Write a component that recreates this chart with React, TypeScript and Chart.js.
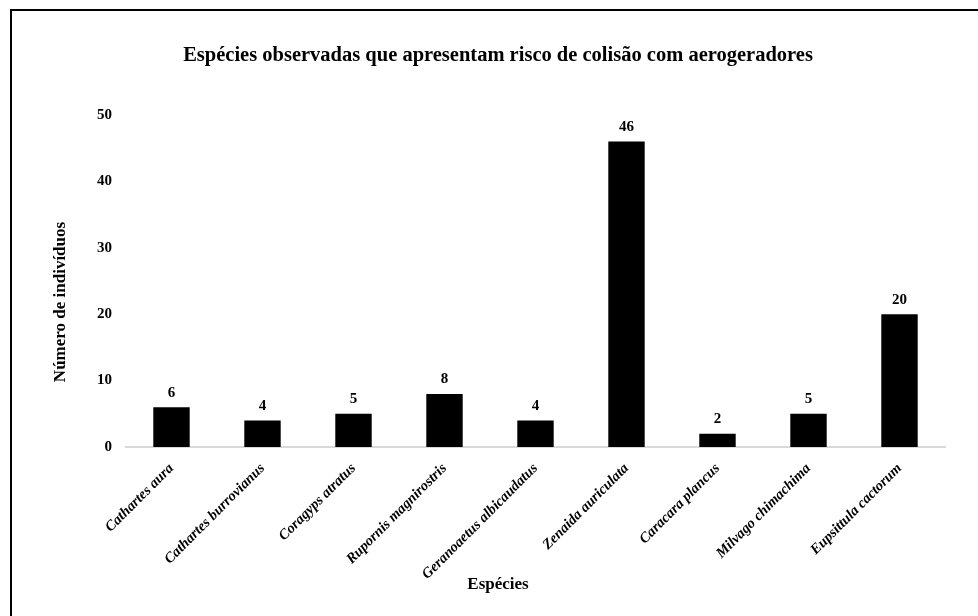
import React, { useEffect, useRef } from "react";
import { Chart, registerables } from "chart.js";

Chart.register(...registerables);

const species = [
  "Cathartes aura",
  "Cathartes burrovianus",
  "Coragyps atratus",
  "Rupornis magnirostris",
  "Geranoaetus albicaudatus",
  "Zenaida auriculata",
  "Caracara plancus",
  "Milvago chimachima",
  "Eupsittula cactorum",
];
const individuals = [6, 4, 5, 8, 4, 46, 2, 5, 20];
const yMin = 0;
const yMax = 50;
const yStep = 10;

const chartTitle = "Espécies observadas que apresentam risco de colisão com aerogeradores";
const xTitle = "Espécies";
const yTitle = "Número de indivíduos";

const SERIF = '"Liberation Serif", "Times New Roman", Times, serif';

// Writes each bar's value just above it.
const valueLabels = {
  id: "valueLabels",
  afterDatasetsDraw(chart: any) {
    const { ctx } = chart;
    const meta = chart.getDatasetMeta(0);
    const data = chart.data.datasets[0].data as number[];
    ctx.save();
    ctx.font = `bold 15px ${SERIF}`;
    ctx.fillStyle = "#000";
    ctx.textAlign = "center";
    ctx.textBaseline = "bottom";
    meta.data.forEach((bar: any, i: number) => {
      ctx.fillText(String(data[i]), bar.x, bar.y - 7);
    });
    ctx.restore();
  },
};

// Chart title and axis titles, centred on the whole drawing rather than on the plot.
const titles = {
  id: "titles",
  afterDraw(chart: any) {
    const { ctx } = chart;
    const cx = 486;
    ctx.save();
    ctx.fillStyle = "#000";
    ctx.textAlign = "center";
    ctx.textBaseline = "middle";
    ctx.font = `bold 20.5px ${SERIF}`;
    ctx.fillText(chartTitle, cx, 45);
    ctx.font = `bold 17px ${SERIF}`;
    ctx.fillText(xTitle, cx, 574);
    ctx.translate(49, 291);
    ctx.rotate(-Math.PI / 2);
    ctx.fillText(yTitle, 0, 0);
    ctx.restore();
  },
};

export default function App() {
  const canvasRef = useRef<HTMLCanvasElement | null>(null);

  useEffect(() => {
    if (!canvasRef.current) return;
    const chart = new Chart(canvasRef.current, {
      type: "bar",
      data: {
        labels: species,
        datasets: [
          {
            data: individuals,
            backgroundColor: "#000000",
            borderWidth: 0,
            categoryPercentage: 1,
            barPercentage: 0.4,
          },
        ],
      },
      options: {
        responsive: false,
        animation: false,
        layout: { padding: { left: 0, right: 33, top: 104, bottom: 0 } },
        plugins: {
          legend: { display: false },
          tooltip: { enabled: false },
          title: { display: false },
        },
        scales: {
          x: {
            grid: { display: false, drawTicks: false },
            border: { display: true, color: "#d9d9d9", width: 2 },
            ticks: {
              autoSkip: false,
              minRotation: 45,
              maxRotation: 45,
              padding: 13,
              color: "#000",
              font: { family: SERIF, size: 14.5, weight: "bold", style: "italic" },
            },
            afterFit(scale: any) {
              scale.height = 169;
            },
          },
          y: {
            min: yMin,
            max: yMax,
            grid: { display: false, drawTicks: false },
            border: { display: false },
            ticks: {
              stepSize: yStep,
              padding: 14,
              color: "#000",
              font: { family: SERIF, size: 15, weight: "bold" },
            },
            afterFit(scale: any) {
              scale.width = 114;
            },
          },
        },
      },
      plugins: [valueLabels, titles],
    });
    return () => chart.destroy();
  }, []);

  return (
    <div
      style={{
        position: "absolute",
        left: 10,
        top: 9,
        width: 968,
        height: 607,
        boxSizing: "border-box",
        borderTop: "2px solid #000",
        borderLeft: "2px solid #000",
        background: "#fff",
      }}
    >
      <canvas ref={canvasRef} width={966} height={605} style={{ display: "block" }} />
    </div>
  );
}
